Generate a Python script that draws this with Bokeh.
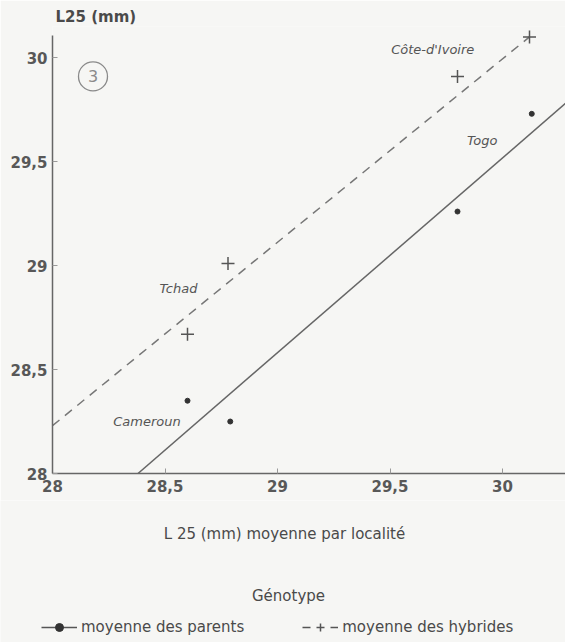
import numpy as np
from bokeh.plotting import figure
from bokeh.layouts import column
from bokeh.models import (Range1d, FixedTicker, Label, Legend, LegendItem,
                          ColumnDataSource)
from bokeh.embed import file_html
from bokeh.resources import INLINE

# ---- data ----
localites = ["Tchad", "Cameroun", "Togo", "Côte-d'Ivoire"]
parents_x = [28.60, 28.79, 29.80, 30.13]
parents_y = [28.35, 28.25, 29.26, 29.73]
hybrides_x = [28.60, 28.78, 29.80, 30.12]
hybrides_y = [28.67, 29.01, 29.91, 30.10]
# fitted lines (end points)
ligne_parents_x = [28.38, 30.28]
ligne_parents_y = [28.00, 29.78]
ligne_hybrides_x = [28.00, 30.12]
ligne_hybrides_y = [28.23, 30.10]

ticks = [28, 28.5, 29, 29.5, 30]
tick_labels = ["28", "28,5", "29", "29,5", "30"]

lab_names = ["Côte-d'Ivoire", "Togo", "Tchad", "Cameroun"]
lab_x = [29.69, 29.91, 28.56, 28.42]
lab_y = [30.04, 29.60, 28.89, 28.25]

BG = "#f6f6f4"
INK = "#4a4a4a"
FONT = "DejaVu Sans"

p = figure(width=565, height=500, output_backend="svg", toolbar_location=None,
           x_range=Range1d(28, 30.28), y_range=Range1d(28, 30.15),
           min_border_left=52, min_border_right=0, min_border_top=26,
           min_border_bottom=27)
p.frame_align = False
p.background_fill_color = BG
p.border_fill_color = BG
p.outline_line_color = None
p.grid.visible = False

p.title.text = "L25 (mm)"
p.title.text_font = FONT
p.title.text_font_size = "15px"
p.title.text_font_style = "bold"
p.title.text_color = INK
p.title.align = "left"
p.title.offset = 3
p.title.standoff = 2

for ax in (p.xaxis[0], p.yaxis[0]):
    ax.ticker = FixedTicker(ticks=ticks)
    ax.major_label_overrides = {float(t): l for t, l in zip(ticks, tick_labels)}
    ax.major_tick_in = 5
    ax.major_tick_out = 0
    ax.minor_tick_line_color = None
    ax.axis_line_color = "#666666"
    ax.axis_line_width = 1.5
    ax.major_tick_line_color = "#999999"
    ax.major_label_text_font = FONT
    ax.major_label_text_font_size = "15px"
    ax.major_label_text_font_style = "bold"
    ax.major_label_text_color = "#585858"

p.yaxis.bounds = (28, 30.105)
p.yaxis.major_label_standoff = 5
p.xaxis.major_label_standoff = 6

# lines
p.line(ligne_parents_x, ligne_parents_y, line_color="#666666", line_width=1.5)
p.line(ligne_hybrides_x, ligne_hybrides_y, line_color="#777777", line_width=1.5,
       line_dash="9 7")
# points
p.scatter(parents_x, parents_y, marker="circle", size=5, fill_color="#333333",
          line_color="#333333")
p.scatter(hybrides_x, hybrides_y, marker="cross", size=13, line_color="#555555",
          line_width=1.5)

# place labels
for name, x, y in zip(lab_names, lab_x, lab_y):
    p.add_layout(Label(x=x, y=y, text=name, text_font=FONT, text_font_size="13px",
                       text_font_style="italic", text_color="#555555",
                       text_align="center", text_baseline="middle"))

# panel number in circle
p.scatter([28.18], [29.91], marker="circle", size=29, fill_color=None,
          line_color="#8a8a8a", line_width=1.3)
p.add_layout(Label(x=28.18, y=29.91, text="3", text_font=FONT, text_font_size="16px",
                   text_color="#8a8a8a", text_align="center", text_baseline="middle"))

# ---- axis title + legend strip (its frame spans the full page width) ----
q = figure(width=565, height=142, output_backend="svg", toolbar_location=None,
           x_range=Range1d(0, 565), y_range=Range1d(0, 142),
           x_axis_location=None, y_axis_location=None,
           min_border_left=0, min_border_right=0, min_border_top=0,
           min_border_bottom=0)
q.frame_align = False
q.background_fill_color = BG
q.border_fill_color = BG
q.outline_line_color = None
q.grid.visible = False

q.add_layout(Label(x=284, y=109, text="L 25 (mm) moyenne par localité",
                   text_font=FONT, text_font_size="15px", text_color=INK,
                   text_align="center", text_baseline="middle"))
q.add_layout(Label(x=288, y=47, text="Génotype", text_font=FONT,
                   text_font_size="15px", text_color=INK, text_align="center",
                   text_baseline="middle"))

src = ColumnDataSource(data=dict(x=np.array([np.nan]), y=np.array([np.nan])))
lp = q.line("x", "y", source=src, line_color="#555555", line_width=1.5)
sp = q.scatter("x", "y", source=src, marker="circle", size=5, fill_color="#333333",
               line_color="#333333")
lh = q.line("x", "y", source=src, line_color="#555555", line_width=1.5,
            line_dash="8 20")
sh = q.scatter("x", "y", source=src, marker="cross", size=12, line_color="#555555",
               line_width=1.5)

legend = Legend(items=[LegendItem(label="moyenne des parents", renderers=[lp, sp]),
                       LegendItem(label="moyenne des hybrides", renderers=[lh, sh])],
                orientation="horizontal", location=(41, 5),
                border_line_color=None, background_fill_alpha=0,
                label_text_font=FONT, label_text_font_size="15px",
                label_text_color=INK, glyph_width=36, spacing=58,
                label_standoff=4, margin=0, padding=2)
q.add_layout(legend)

open("out.html", "w").write(file_html(column(p, q), INLINE))
